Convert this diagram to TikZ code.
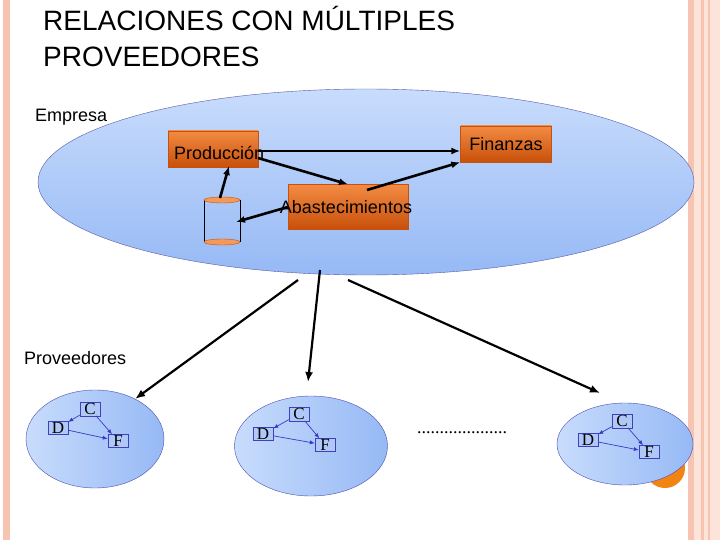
\documentclass[tikz,border=0pt]{standalone}
\usepackage{fontspec}
\setmainfont{Liberation Sans}
\usetikzlibrary{arrows.meta,shapes.geometric}
\definecolor{pinkb}{RGB}{247,196,178}
\definecolor{pinkl}{RGB}{252,228,218}
\definecolor{ellA}{RGB}{150,185,245}
\definecolor{ellB}{RGB}{200,220,252}
\definecolor{orng}{RGB}{240,110,20}
\definecolor{orngd}{RGB}{200,80,10}
\definecolor{smallbox}{RGB}{175,200,245}
\tikzset{
 obox/.style={draw=orngd,top color=orng!80!white,bottom color=orngd,minimum width=#1,minimum height=36pt,inner sep=0pt},
 big/.style={-{Latex[length=10pt,width=8pt]},line width=2.2pt},
 mid/.style={-{Latex[length=9pt,width=7pt]},line width=2.6pt},
 sell/.style={ellipse,draw=blue!40!gray,left color=ellB,right color=ellA,inner sep=0pt},
 sbox/.style={draw=blue!50!gray,fill=smallbox,font=\fontspec{Liberation Serif}\fontsize{17}{17}\selectfont,inner sep=1pt,minimum width=20pt},
 sarr/.style={-{Latex[length=5pt,width=4pt]},draw=blue!55!gray,line width=0.7pt},
 lbl/.style={font=\fontsize{18}{20}\selectfont,anchor=west,inner sep=0pt}
}
\begin{document}
\begin{tikzpicture}[x=1pt,y=-1pt]
\useasboundingbox (0,0) rectangle (720,540);
\fill[white] (0,0) rectangle (720,540);
% borders
\fill[pinkb] (3,0) rectangle (10,540);
\fill[pinkl] (688,0) rectangle (720,540);
\fill[pinkb] (688,0) rectangle (694,540);
\fill[pinkb] (701,0) rectangle (704,540);
\fill[pinkb] (708,0) rectangle (710,540);
% title
\node[anchor=west,inner sep=0pt,font=\fontsize{28}{30}\selectfont] (t1) at (43,18) {RELACIONES CON MÚLTIPLES};
\node[anchor=west,inner sep=0pt,font=\fontsize{28}{30}\selectfont] (t2) at (43,57) {PROVEEDORES};
% empresa
\node[ellipse,draw=blue!30!gray,top color=ellB,bottom color=ellA,minimum width=656pt,minimum height=186pt,inner sep=0pt] (emp) at (366,182) {};
\node[lbl] (lemp) at (35,117) {Empresa};
\node[obox=90pt] (prod) at (213,149) {};
\node[lbl] (lprod) at (174,153) {Producción};
\node[obox=91pt] (fin) at (506,144) {\fontsize{18}{20}\selectfont Finanzas};
\node[obox=120pt,minimum height=45pt] (aba) at (348,207) {};
\node[font=\fontsize{18}{20}\selectfont,inner sep=0pt] (laba) at (346,207) {Abastecimientos};
% cylinder
\draw[black,thin] (204,200) -- (204,242) (240,200) -- (240,242);
\node[ellipse,draw=orngd,fill=orng!70!white,minimum width=36pt,minimum height=6pt,inner sep=0pt] (cyt) at (222,200) {};
\node[ellipse,draw=orngd,fill=orng!70!white,minimum width=36pt,minimum height=6pt,inner sep=0pt] (cyb) at (222,242) {};
\coordinate (cyl) at (236,222);
\coordinate (cyo) at (220,198);
\coordinate (prb) at (229,166);
% arrows
\draw[mid] (258,151) -- (fin.west |- 0,151);
\draw[mid] (258,158) -- (aba.north);
\draw[mid] (367,190) -- (fin.south west);
\draw[mid] (cyo) -- (prb);
\draw[mid] (aba.west) -- (cyl);
% big arrows
\coordinate (a1) at (320,270);
\coordinate (a0) at (298,280);
\coordinate (a2) at (348,280);
\node[lbl] (lprov) at (24,358) {Proveedores};
% small ellipses
\fill[orng!85!yellow] (665,468) circle (20);
\node[sell,minimum width=138pt,minimum height=98pt] (e1) at (95,439) {};
\node[sell,minimum width=153pt,minimum height=100pt] (e2) at (311,446) {};
\node[sell,minimum width=136pt,minimum height=82pt] (e3) at (625,444) {};
\draw[big] (a0) -- (e1.45);
\draw[big] (a1) -- (308,382);
\draw[big] (a2) -- (600,393);
\foreach \n/\cx/\cy/\dx/\dy/\fx/\fy in {1/90/409/58/428/118/441, 2/299/414/263/434/325/445, 3/622/421/588/440/649/452}{
 \node[sbox] (c\n) at (\cx,\cy) {C};
 \node[sbox] (d\n) at (\dx,\dy) {D};
 \node[sbox] (f\n) at (\fx,\fy) {F};
 \draw[sarr] (c\n) -- (d\n);
 \draw[sarr] (c\n) -- (f\n);
 \draw[sarr] (d\n) -- (f\n);
}
\node[font=\fontspec{Liberation Serif}\fontsize{18}{18}\selectfont,inner sep=0pt] (dots) at (462,433) {....................};
\end{tikzpicture}
\end{document}
